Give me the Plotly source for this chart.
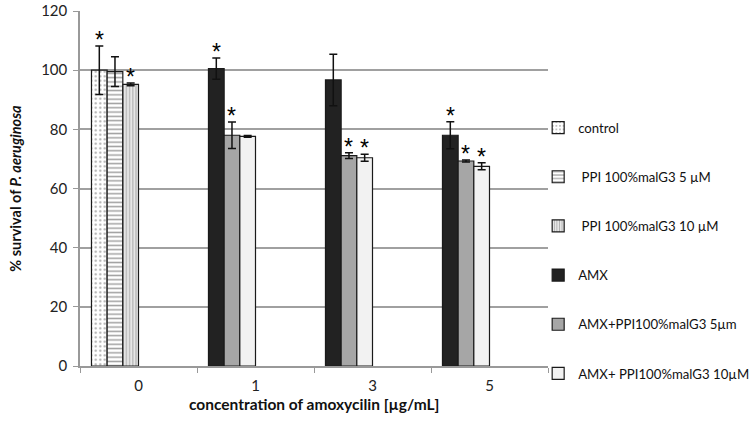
import plotly.graph_objects as go

categories = ["0", "1", "3", "5"]

series_names = ["control", " PPI 100%malG3 5 µM", " PPI 100%malG3 10 µM",
                "AMX", "AMX+PPI100%malG3 5µm", "AMX+ PPI100%malG3 10µM"]
series_cats = [["0"], ["0"], ["0"], ["1", "3", "5"], ["1", "3", "5"], ["1", "3", "5"]]
series_vals = [[100.0], [99.5], [95.2], [100.5, 96.7, 78.0], [78.0, 71.1, 69.3], [77.6, 70.4, 67.5]]
series_err = [[8.2], [5.0], [0.5], [3.6, 8.7, 4.6], [4.5, 1.0, 0.3], [0.3, 1.2, 1.2]]
series_star = [[True], [False], [True], [True, False, True], [True, True, True], [False, True, True]]

x_title = "<b>concentration of amoxycilin [µg/mL]</b>"
y_title = "<b>% survival of <i>P. aeruginosa</i></b>"

slot = [0, 1, 2, 0, 1, 2]
bar_w = 0.134
start = -0.402

fills = ["#ffffff", "#ffffff", "#d0d0d0", "#222222", "#a6a6a6", "#f2f2f2"]
patterns = [dict(shape=".", fgcolor="#555555", bgcolor="#ffffff", size=4.5, solidity=0.2),
            dict(shape="-", fgcolor="#444444", bgcolor="#ffffff", size=4.3, solidity=0.35),
            dict(shape="|", fgcolor="#777777", bgcolor="#e6e6e6", size=3.2, solidity=0.35),
            None, None, None]

fig = go.Figure()
annotations = []
for i, name in enumerate(series_names):
    off = start + slot[i] * bar_w
    marker = dict(color=fills[i], line=dict(color="#1a1a1a", width=1.2))
    if patterns[i]:
        marker["pattern"] = patterns[i]
    fig.add_trace(go.Bar(
        x=series_cats[i], y=series_vals[i], name=name,
        offset=off, width=bar_w, marker=marker,
        legendgroup=str(i),
        error_y=dict(type="data", array=series_err[i], visible=True,
                     color="#111111", thickness=1.5, width=4),
    ))
    for c, v, e, s in zip(series_cats[i], series_vals[i], series_err[i], series_star[i]):
        if s:
            annotations.append(dict(
                x=categories.index(c) + off + bar_w / 2, y=v + e,
                xref="x", yref="y", text="*", showarrow=False,
                yanchor="bottom", yshift=-9,
                font=dict(size=23, color="#000000", family="Liberation Sans")))

annotations.append(dict(text=x_title, xref="paper", yref="paper", x=0.5, y=-0.106,
                        xanchor="center", yanchor="middle", showarrow=False,
                        font=dict(size=15.5, color="#111111")))

fig.update_layout(
    width=756, height=428,
    margin=dict(l=80, r=208, t=11, b=62, autoexpand=False),
    paper_bgcolor="white", plot_bgcolor="white",
    barmode="overlay",
    font=dict(family="Lato, Open Sans, sans-serif", color="#222222"),
    showlegend=True,
    legend=dict(x=0.979, xanchor="left", y=0.714, yanchor="top",
                tracegroupgap=29.0, font=dict(size=13.2, color="#111111"),
                itemwidth=30, bgcolor="rgba(0,0,0,0)"),
    annotations=annotations,
    xaxis=dict(type="category", categoryorder="array", categoryarray=categories,
               range=[-0.5, 3.5], showline=True, linecolor="#999999", linewidth=1.5,
               ticks="outside", tickson="boundaries", ticklen=5, tickcolor="#999999",
               tickfont=dict(size=15, color="#222222"), automargin=False,
               ticklabelstandoff=5),
    yaxis=dict(range=[0, 120], dtick=20, showgrid=True, gridcolor="#a0a0a0", gridwidth=1.5,
               showline=True, linecolor="#999999", linewidth=1.5,
               ticks="outside", ticklen=5, tickcolor="#999999", automargin=False,
               ticklabelstandoff=3,
               tickfont=dict(size=15, color="#222222"), zeroline=False,
               title=dict(text=y_title,
                          font=dict(size=14.5, color="#111111"), standoff=16)),
)

fig.write_html("out.html", config={"displayModeBar": False},
               post_script="document.body.style.margin='0';")
